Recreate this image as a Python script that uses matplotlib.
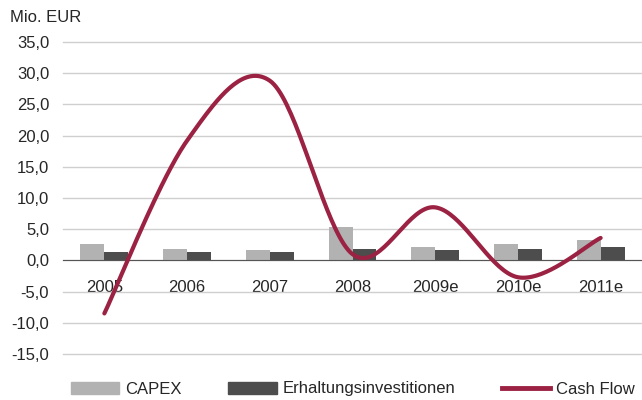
import numpy as np
import matplotlib.pyplot as plt
from matplotlib.patches import Patch
from matplotlib.lines import Line2D

plt.rcParams['font.family'] = ['Liberation Sans', 'DejaVu Sans']

# Daten (Mio. EUR)
years = ['2005', '2006', '2007', '2008', '2009e', '2010e', '2011e']
capex = [2.6, 1.8, 1.6, 5.4, 2.1, 2.6, 3.2]
erhaltung = [1.3, 1.3, 1.3, 1.9, 1.6, 1.9, 2.2]
cash_flow = [-8.5, 19.2, 28.8, 1.0, 8.5, -2.7, 3.6]

c_capex = '#b2b2b2'
c_erh = '#4d4d4d'
c_cf = '#9b2242'
txt = '#262626'


def smooth(xs, ys, n=40):
    # Catmull-Rom Glaettung wie in Excel
    xs = np.asarray(xs, float)
    ys = np.asarray(ys, float)
    px = np.concatenate([[xs[0]], xs, [xs[-1]]])
    py = np.concatenate([[ys[0]], ys, [ys[-1]]])
    ox, oy = [], []
    for i in range(1, len(px) - 2):
        t = np.linspace(0, 1, n)
        h00 = 2 * t**3 - 3 * t**2 + 1
        h10 = t**3 - 2 * t**2 + t
        h01 = -2 * t**3 + 3 * t**2
        h11 = t**3 - t**2
        for p, o in ((px, ox), (py, oy)):
            m1 = (p[i + 1] - p[i - 1]) / 2
            m2 = (p[i + 2] - p[i]) / 2
            o.extend(h00 * p[i] + h10 * m1 + h01 * p[i + 1] + h11 * m2)
    return np.array(ox), np.array(oy)


fig = plt.figure(figsize=(6.42, 4.00), dpi=100)
ax = fig.add_axes([63 / 642, 1 - 354 / 400, 1 - 63 / 642, 312 / 400])

x = np.arange(len(years))
w = 0.29
ax.bar(x - w / 2, capex, w, color=c_capex, zorder=2)
ax.bar(x + w / 2, erhaltung, w, color=c_erh, zorder=2)

sx, sy = smooth(x, cash_flow)
ax.plot(sx, sy, color=c_cf, lw=3, solid_capstyle='round', zorder=3)

ax.set_xlim(-0.5, len(years) - 0.5)
ax.set_ylim(-15, 35)
ax.set_yticks(np.arange(-15, 36, 5))
ax.set_yticklabels([f'{v:.1f}'.replace('.', ',') for v in np.arange(-15, 36, 5)])
ax.set_xticks(x)
ax.set_xticklabels(years)

ax.grid(axis='y', color='#cfcfcf', lw=1, zorder=0)
for gl in ax.get_ygridlines():
    gl.set_clip_on(False)
ax.set_axisbelow(True)
for s in ['top', 'right', 'left']:
    ax.spines[s].set_visible(False)
ax.spines['bottom'].set_position(('data', 0))
ax.spines['bottom'].set_color('#555555')
ax.spines['bottom'].set_zorder(2.5)
ax.tick_params(axis='x', length=0, pad=14, labelsize=12, colors=txt)
ax.tick_params(axis='y', length=0, pad=10, labelsize=12, colors=txt)

fig.text(10 / 642, 1 - 17 / 400, 'Mio. EUR', fontsize=12, color=txt, va='center')

handles = [Patch(color=c_capex), Patch(color=c_erh),
           Line2D([], [], color=c_cf, lw=3.5)]
fig.legend(handles, ['CAPEX', 'Erhaltungsinvestitionen', 'Cash Flow'],
           loc='center left', bbox_to_anchor=(71 / 642, 1 - 389 / 400),
           ncol=3, frameon=False, fontsize=12, borderpad=0, borderaxespad=0,
           handlelength=2.9, handleheight=0.75, handletextpad=0.35,
           columnspacing=2.8, labelcolor=txt)

fig.savefig('out.png', dpi=100)
